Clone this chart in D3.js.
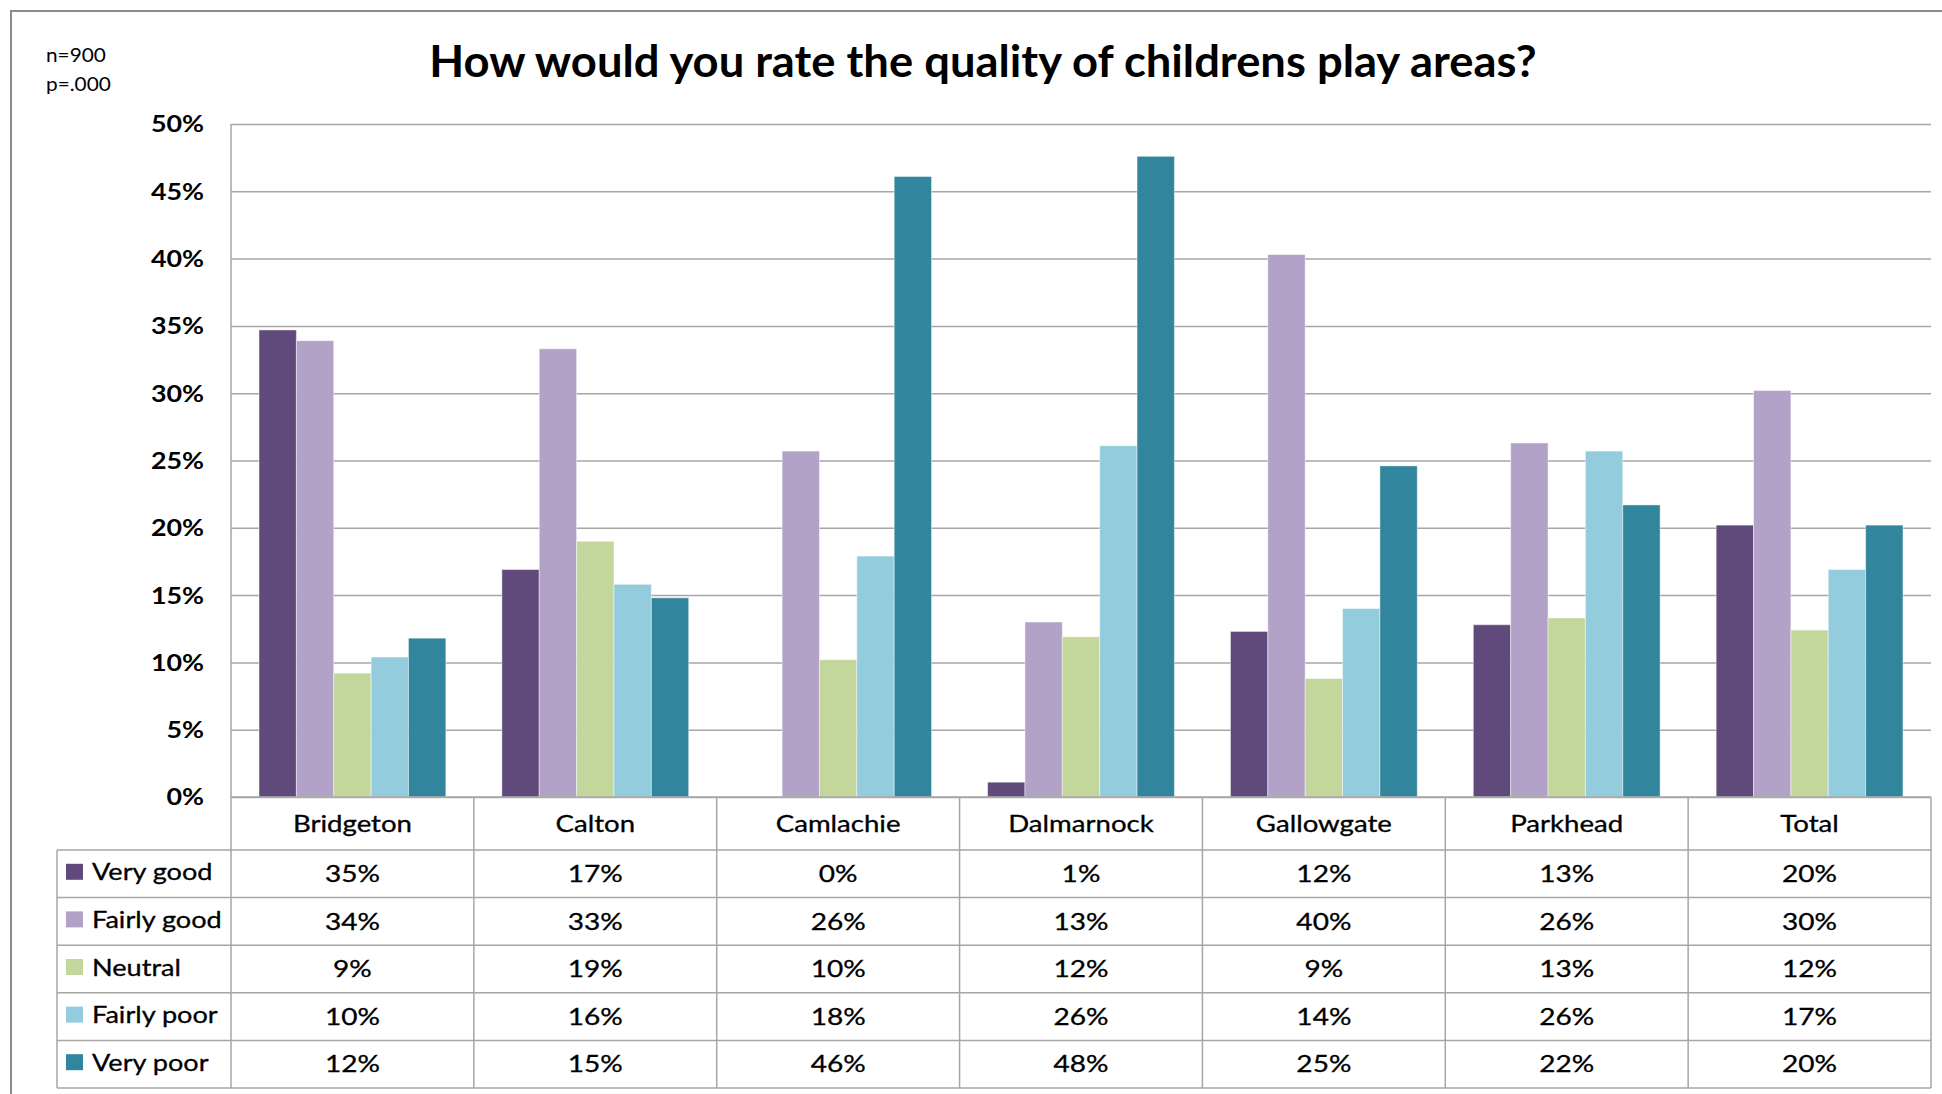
<!DOCTYPE html>
<html>
<head>
<meta charset="utf-8">
<script src="https://cdn.jsdelivr.net/npm/d3@7"></script>
<style>
  html, body { margin: 0; padding: 0; background: #fff; }
  svg { display: block; }
  text { font-family: Lato, "Noto Sans", sans-serif; fill: #000; }
</style>
</head>
<body>
<svg id="chart" width="1942" height="1094"></svg>
<script>
// Survey areas (x categories) and rating series
const categories = ["Bridgeton", "Calton", "Camlachie", "Dalmarnock", "Gallowgate", "Parkhead", "Total"];
const seriesNames = ["Very good", "Fairly good", "Neutral", "Fairly poor", "Very poor"];
const seriesColors = ["#604A7B", "#B3A2C7", "#C3D69B", "#93CDDD", "#31859C"];

// Percent of respondents per area, one array per rating
const veryGood   = [34.7, 16.9,  0.0,  1.1, 12.3, 12.8, 20.2];
const fairlyGood = [33.9, 33.3, 25.7, 13.0, 40.3, 26.3, 30.2];
const neutral    = [ 9.2, 19.0, 10.2, 11.9,  8.8, 13.3, 12.4];
const fairlyPoor = [10.4, 15.8, 17.9, 26.1, 14.0, 25.7, 16.9];
const veryPoor   = [11.8, 14.8, 46.1, 47.6, 24.6, 21.7, 20.2];

const yTicks = [0, 5, 10, 15, 20, 25, 30, 35, 40, 45, 50];

const titleText = "How would you rate the quality of childrens play areas?";
const noteLines = ["n=900", "p=.000"];

const seriesValues = [veryGood, fairlyGood, neutral, fairlyPoor, veryPoor];

// Layout
const plotLeft = 231, plotRight = 1931, plotTop = 124, plotBottom = 797;
const headerBottom = 850, tableBottom = 1088, legendLeft = 57;
const gridColor = "#a6a6a6";

const svg = d3.select("#chart");

// place a text at (x, y), widened horizontally by sx around its anchor point
function placeText(sel, xf, yf, sx) {
  sel.attr("x", 0).attr("y", 0)
     .attr("transform", (d, i) => `translate(${xf(d, i)},${yf(d, i)}) scale(${sx},1)`);
}

// outer frame
svg.append("rect")
  .attr("x", 11).attr("y", 11)
  .attr("width", 2000).attr("height", 2000)
  .attr("fill", "none").attr("stroke", "#8c8c8c").attr("stroke-width", 2);

const x = d3.scaleBand().domain(categories).range([plotLeft, plotRight]).paddingInner(0).paddingOuter(0);
const xInner = d3.scaleBand().domain(seriesNames).range([0, x.bandwidth()]).paddingInner(0).paddingOuter(0.75);
const y = d3.scaleLinear().domain([0, 50]).range([plotBottom, plotTop]);

// gridlines + y labels
const yAxis = d3.axisLeft(y)
  .tickValues(yTicks)
  .tickFormat(d => d + "%")
  .tickSizeInner(-(plotRight - plotLeft))
  .tickSizeOuter(0)
  .tickPadding(27);

const yg = svg.append("g").attr("transform", `translate(${plotLeft},0)`).call(yAxis);
yg.select(".domain").remove();
yg.selectAll(".tick line").attr("stroke", gridColor).attr("stroke-width", 1.5);
yg.selectAll(".tick text")
  .attr("font-family", "Lato, sans-serif")
  .attr("font-size", 22).attr("font-weight", 700).attr("fill", "#000")
  .attr("dy", "0.36em")
  .attr("x", 0)
  .attr("transform", "translate(-27,0) scale(1.22,1)");

// bars
const groups = svg.append("g").selectAll("g.series")
  .data(seriesNames)
  .join("g")
  .attr("class", "series")
  .attr("fill", (d, i) => seriesColors[i]);

groups.selectAll("rect")
  .data((s, i) => categories.map((c, j) => ({ cat: c, series: s, value: seriesValues[i][j] })))
  .join("rect")
  .attr("x", d => x(d.cat) + xInner(d.series))
  .attr("width", xInner.bandwidth())
  .attr("y", d => y(d.value))
  .attr("height", d => y(0) - y(d.value))
  .attr("stroke", "rgba(255,255,255,0.45)")
  .attr("stroke-width", 1);

// data table lines
const lines = svg.append("g").attr("stroke", gridColor).attr("stroke-width", 1.5);
lines.append("line").attr("x1", plotLeft).attr("x2", plotLeft).attr("y1", plotTop).attr("y2", tableBottom);
lines.append("line").attr("x1", plotLeft).attr("x2", plotRight).attr("y1", plotBottom).attr("y2", plotBottom);
categories.forEach(c => {
  lines.append("line")
    .attr("x1", x(c) + x.bandwidth()).attr("x2", x(c) + x.bandwidth())
    .attr("y1", plotBottom).attr("y2", tableBottom);
});
const rowH = (tableBottom - headerBottom) / seriesNames.length;
d3.range(seriesNames.length + 1).forEach(k => {
  const yy = headerBottom + k * rowH;
  lines.append("line").attr("x1", legendLeft).attr("x2", plotRight).attr("y1", yy).attr("y2", yy);
});
lines.append("line").attr("x1", legendLeft).attr("x2", legendLeft).attr("y1", headerBottom).attr("y2", tableBottom);

// category headers
svg.append("g").selectAll("text")
  .data(categories)
  .join("text")
  .attr("dy", "0.36em")
  .attr("text-anchor", "middle")
  .attr("font-size", 23)
  .attr("stroke", "#000").attr("stroke-width", 0.3)
  .text(d => d)
  .call(placeText, d => x(d) + x.bandwidth() / 2, () => (plotBottom + headerBottom) / 2, 1.2);

// legend keys and labels
const legendRows = svg.append("g").selectAll("g")
  .data(seriesNames)
  .join("g")
  .attr("transform", (d, i) => `translate(0,${headerBottom + i * rowH + rowH / 2})`);

legendRows.append("rect")
  .attr("x", 66).attr("y", -10).attr("width", 17).attr("height", 16)
  .attr("fill", (d, i) => seriesColors[i]);

legendRows.append("text")
  .attr("dy", "0.36em")
  .attr("font-size", 24)
  .attr("stroke", "#000").attr("stroke-width", 0.3)
  .text(d => d)
  .call(placeText, () => 92, () => -2, 1.13);

// table values
seriesNames.forEach((s, i) => {
  svg.append("g").selectAll("text")
    .data(categories.map((c, j) => ({ cat: c, value: seriesValues[i][j] })))
    .join("text")
    .attr("dy", "0.36em")
    .attr("text-anchor", "middle")
    .attr("font-size", 23)
    .attr("stroke", "#000").attr("stroke-width", 0.3)
    .text(d => Math.round(d.value) + "%")
    .call(placeText, d => x(d.cat) + x.bandwidth() / 2, () => headerBottom + i * rowH + rowH / 2, 1.22);
});

// title
svg.append("text")
  .datum(titleText)
  .attr("text-anchor", "middle")
  .attr("font-size", 43).attr("font-weight", 700)
  .text(d => d)
  .call(placeText, () => 983, () => 77, 1.055);

// sample notes
svg.append("g").selectAll("text")
  .data(noteLines)
  .join("text")
  .attr("font-size", 20)
  .text(d => d)
  .call(placeText, () => 46, (d, i) => 62 + i * 29, 1.04);
</script>
</body>
</html>
